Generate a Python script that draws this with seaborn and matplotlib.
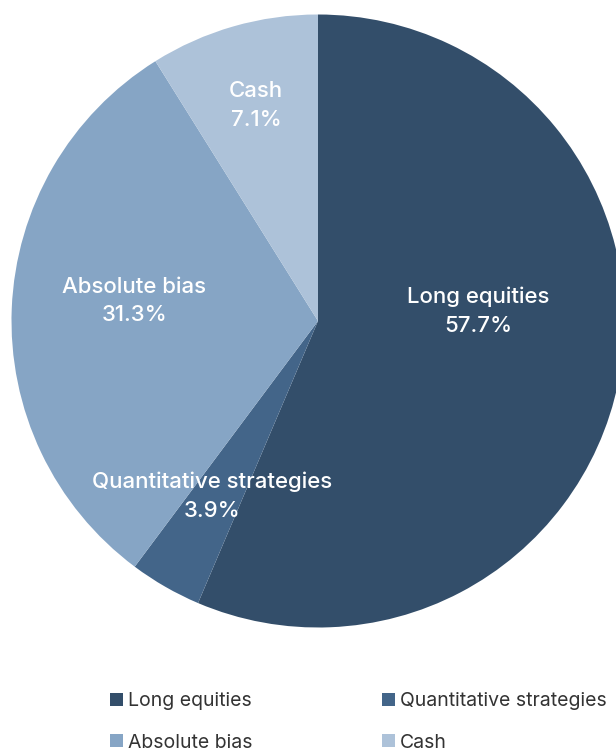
import matplotlib
matplotlib.use("Agg")
import matplotlib.pyplot as plt
from matplotlib.patches import Patch
import seaborn as sns

categories = ["Long equities", "Quantitative strategies", "Absolute bias", "Cash"]
# wedge sizes as drawn in the picture
values = [56.4, 3.8, 30.9, 8.9]
pct_labels = ["57.7%", "3.9%", "31.3%", "7.1%"]
colors = ["#334e6a", "#436589", "#86a5c5", "#adc2d9"]

sns.set_theme(style="white")
plt.rcParams["font.family"] = ["Inter", "DejaVu Sans"]

W, H = 616, 749
fig = plt.figure(figsize=(W / 100, H / 100), dpi=100)
cx, cy, r = 318, 321, 306.5
ax = fig.add_axes([(cx - r) / W, (H - cy - r) / H, 2 * r / W, 2 * r / H])
ax.pie(values, colors=colors, startangle=90, counterclock=False, radius=1,
       wedgeprops=dict(linewidth=0))
ax.set_xlim(-1, 1)
ax.set_ylim(-1, 1)
ax.set_aspect("equal")
ax.axis("off")

label_pos = [(0.524, 0.033), (-0.345, -0.573), (-0.599, 0.065), (-0.202, 0.704)]
for cat, pct, (x, y) in zip(categories, pct_labels, label_pos):
    ax.text(x, y, f"{cat}\n{pct}", ha="center", va="center", color="white",
            fontsize=16, fontweight="medium", linespacing=1.55)

handles = [Patch(facecolor=c, edgecolor="none") for c in colors]
order = [0, 2, 1, 3]
leg = fig.legend([handles[i] for i in order], [categories[i] for i in order],
                 ncol=2, loc="upper left", bbox_to_anchor=(110 / W, 1 - 692 / H),
                 frameon=False, fontsize=14, handlelength=0.67, handleheight=0.67,
                 handletextpad=0.26, columnspacing=6.64, labelspacing=1.21,
                 borderaxespad=0, borderpad=0)
for t in leg.get_texts():
    t.set_color("#333333")

fig.savefig("out.png", dpi=100)
